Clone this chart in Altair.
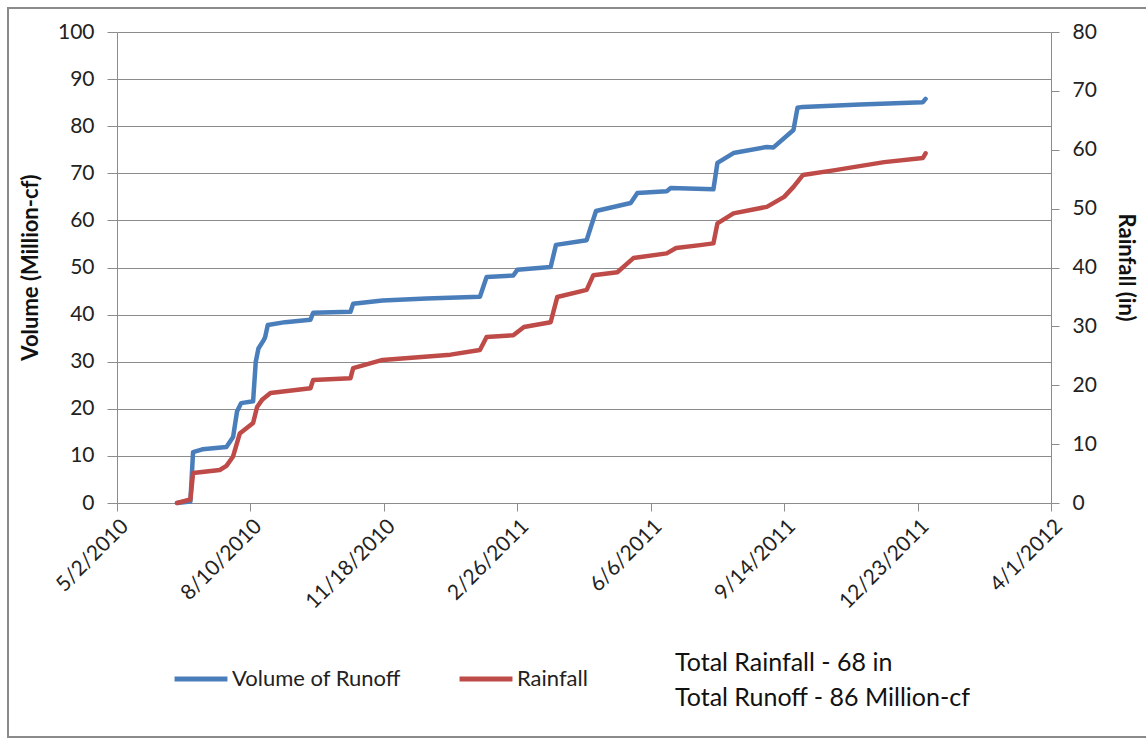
import altair as alt
import pandas as pd

# ---- data ----
runoff_dates = ["2010-06-16", "2010-06-26", "2010-06-28", "2010-07-05", "2010-07-23", "2010-07-28",
                "2010-07-31", "2010-08-03", "2010-08-12", "2010-08-14", "2010-08-16", "2010-08-20",
                "2010-08-21", "2010-08-23", "2010-09-05", "2010-09-24", "2010-09-26", "2010-10-24",
                "2010-10-26", "2010-11-17", "2010-12-20", "2011-01-29", "2011-02-03", "2011-02-23",
                "2011-02-26", "2011-03-23", "2011-03-27", "2011-04-19", "2011-04-22", "2011-04-26",
                "2011-05-22", "2011-05-27", "2011-06-18", "2011-06-21", "2011-07-23", "2011-07-26",
                "2011-08-07", "2011-09-01", "2011-09-06", "2011-09-21", "2011-09-24", "2011-09-28",
                "2011-11-10", "2011-12-27", "2011-12-29"]
runoff_values = [0.0, 0.3, 10.8, 11.4, 11.9, 14.0,
                 19.5, 21.2, 21.6, 30.0, 32.8, 34.6,
                 35.2, 37.8, 38.4, 38.9, 40.4, 40.6,
                 42.3, 43.0, 43.4, 43.8, 48.0, 48.3,
                 49.5, 50.1, 54.8, 55.8, 58.5, 62.0,
                 63.7, 65.8, 66.2, 66.9, 66.6, 72.2,
                 74.3, 75.6, 75.5, 79.2, 83.9, 84.1,
                 84.6, 85.1, 85.8]

rain_dates = ["2010-06-16", "2010-06-26", "2010-06-28", "2010-07-18", "2010-07-23", "2010-07-28",
              "2010-08-02", "2010-08-12", "2010-08-15", "2010-08-19", "2010-08-25", "2010-09-24",
              "2010-09-26", "2010-10-24", "2010-10-26", "2010-11-17", "2011-01-07", "2011-01-29",
              "2011-02-03", "2011-02-23", "2011-03-03", "2011-03-23", "2011-03-28", "2011-04-19",
              "2011-04-24", "2011-05-12", "2011-05-24", "2011-06-18", "2011-06-25", "2011-07-13",
              "2011-07-23", "2011-07-26", "2011-08-07", "2011-09-01", "2011-09-14", "2011-09-21",
              "2011-09-28", "2011-10-21", "2011-11-28", "2011-12-27", "2011-12-29"]
rain_values = [0.0, 0.6, 5.1, 5.6, 6.3, 7.9,
               11.8, 13.6, 16.3, 17.6, 18.7, 19.5,
               20.9, 21.2, 22.9, 24.3, 25.2, 26.0,
               28.2, 28.5, 29.9, 30.7, 35.0, 36.2,
               38.7, 39.2, 41.6, 42.4, 43.3, 43.8,
               44.1, 47.5, 49.2, 50.3, 52.0, 53.7,
               55.7, 56.5, 57.9, 58.6, 59.4]

x_tick_dates = ["2010-05-02", "2010-08-10", "2010-11-18", "2011-02-26",
                "2011-06-06", "2011-09-14", "2011-12-23", "2012-04-01"]
left_ticks = [0, 10, 20, 30, 40, 50, 60, 70, 80, 90, 100]
right_ticks = [0, 10, 20, 30, 40, 50, 60, 70, 80]
series_names = ["Volume of Runoff", "Rainfall"]
series_colors = ["#4A7EBB", "#BE4B48"]
notes = ["Total Rainfall - 68 in", "Total Runoff - 86 Million-cf"]

FONT = "Lato"
GRID = "#8C8C8C"
TXT = "#222222"

runoff_df = pd.DataFrame({"date": runoff_dates, "value": runoff_values, "series": series_names[0]})
rain_df = pd.DataFrame({"date": rain_dates, "value": rain_values, "series": series_names[1]})


def dt(s):
    y, m, d = (int(p) for p in s.split("-"))
    return alt.DateTime(year=y, month=m, date=d, utc=True)


x_enc = alt.X(
    "date:T",
    scale=alt.Scale(type="utc", domain=[dt(x_tick_dates[0]), dt(x_tick_dates[-1])]),
    axis=alt.Axis(
        values=[dt(s) for s in x_tick_dates],
        labelExpr="utcFormat(datum.value, '%-m/%-d/%Y')",
        labelAngle=-45,
        labelFont=FONT, labelFontSize=21, labelColor=TXT,
        labelPadding=4, tickSize=8, tickColor=GRID, domainColor=GRID,
        grid=False, title=None, labelOverlap=False,
    ),
)

color_enc = alt.Color(
    "series:N",
    scale=alt.Scale(domain=series_names, range=series_colors),
    legend=alt.Legend(
        orient="none", legendX=55, legendY=618, direction="horizontal",
        title=None, symbolType="stroke", symbolSize=2800, symbolStrokeWidth=5,
        labelFont=FONT, labelFontSize=22, labelColor=TXT, labelLimit=0,
        labelOffset=2, columnPadding=48,
    ),
)

runoff = alt.Chart(runoff_df).mark_line(strokeWidth=4.5, strokeJoin="round", strokeCap="round").encode(
    x=x_enc,
    y=alt.Y(
        "value:Q",
        scale=alt.Scale(domain=[0, 100]),
        axis=alt.Axis(
            values=left_ticks, title="Volume (Million-cf)", grid=True, gridColor=GRID,
            labelFont=FONT, labelFontSize=21, labelColor=TXT, labelPadding=13,
            tickSize=10, tickColor=GRID, domainColor=GRID,
            titleFont=FONT, titleFontSize=22, titleFontWeight="bold", titleColor="#111111",
            titleX=-87, titleY=235, titleBaseline="middle",
        ),
    ),
    color=color_enc,
)

rain = alt.Chart(rain_df).mark_line(strokeWidth=4.5, strokeJoin="round", strokeCap="round").encode(
    x=x_enc,
    y=alt.Y(
        "value:Q",
        scale=alt.Scale(domain=[0, 80]),
        axis=alt.Axis(
            orient="right", values=right_ticks, title="Rainfall  (in)", grid=False,
            labelFont=FONT, labelFontSize=21, labelColor=TXT, labelPadding=13,
            tickSize=8, tickColor=GRID, domainColor=GRID,
            titleFont=FONT, titleFontSize=22, titleFontWeight="bold", titleColor="#111111",
            titleX=74, titleY=235, titleBaseline="middle",
        ),
    ),
    color=color_enc,
)

border = alt.Chart(pd.DataFrame({"a": [0]})).mark_rect(
    fillOpacity=0, stroke="#8A8A8A", strokeWidth=2
).encode(
    x=alt.value(-109), x2=alt.value(1060), y=alt.value(-24), y2=alt.value(705)
)

notes_df = pd.DataFrame({"text": notes})
note1 = alt.Chart(notes_df.iloc[[0]]).mark_text(
    align="left", baseline="middle", font=FONT, fontSize=25, color="#111111"
).encode(text="text:N", x=alt.value(558), y=alt.value(631))
note2 = alt.Chart(notes_df.iloc[[1]]).mark_text(
    align="left", baseline="middle", font=FONT, fontSize=25, color="#111111"
).encode(text="text:N", x=alt.value(558), y=alt.value(666))

chart = alt.layer(border, runoff, rain, note1, note2).resolve_scale(y="independent").properties(
    width=934, height=471,
    autosize=alt.AutoSizeParams(type="none"),
    padding={"left": 117, "top": 32, "right": 95, "bottom": 235},
    background="white",
).configure_view(stroke=None)

chart.save("out.html", embed_options={"renderer": "svg", "actions": False})
